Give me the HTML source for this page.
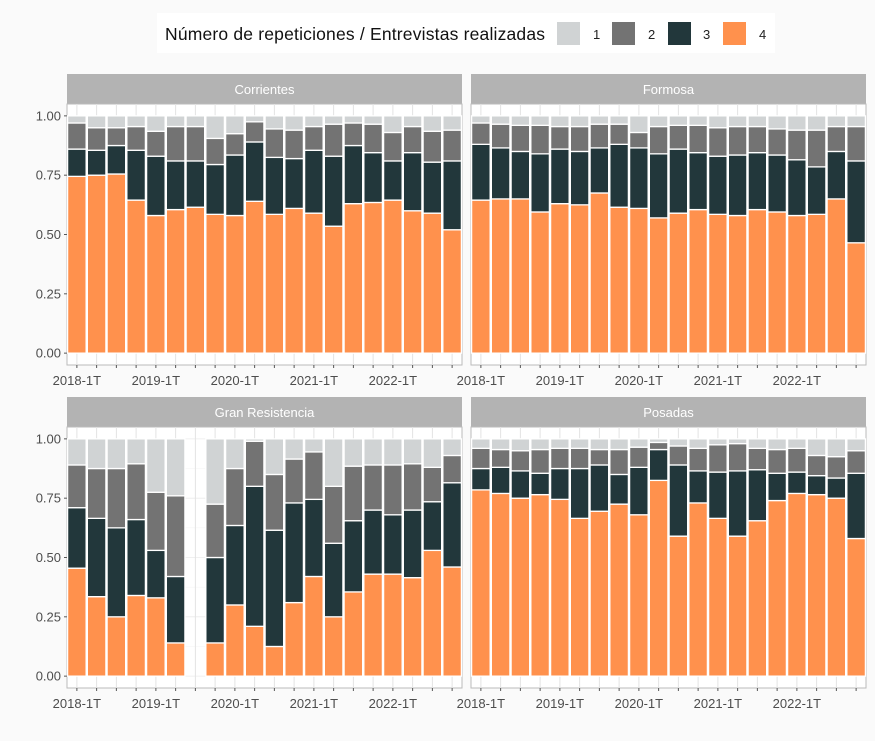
<!DOCTYPE html>
<html><head><meta charset="utf-8"><style>
body{margin:0;background:#fafafa;font-family:"Liberation Sans",sans-serif;}
svg{display:block}
</style></head><body>
<svg id="chart" width="875" height="741" xmlns="http://www.w3.org/2000/svg">
<rect width="875" height="741" fill="#fafafa"/>
<g>
<rect x="157" y="13" width="618" height="40" fill="#ffffff"/>
<text x="165" y="40" font-size="17.5" textLength="380" fill="#111">Número de repeticiones / Entrevistas realizadas</text>
<rect x="557" y="22" width="23" height="23" fill="#d0d3d4"/>
<text x="593" y="39" font-size="13" fill="#222">1</text>
<rect x="612" y="22" width="23" height="23" fill="#737373"/>
<text x="648" y="39" font-size="13" fill="#222">2</text>
<rect x="668" y="22" width="23" height="23" fill="#22373b"/>
<text x="703" y="39" font-size="13" fill="#222">3</text>
<rect x="723" y="22" width="23" height="23" fill="#ff914d"/>
<text x="759" y="39" font-size="13" fill="#222">4</text>
</g>
<g id="panels"></g>
</svg>
<script>
const categories=["2018-1T","2018-2T","2018-3T","2018-4T","2019-1T","2019-2T","2019-3T","2019-4T","2020-1T","2020-2T","2020-3T","2020-4T","2021-1T","2021-2T","2021-3T","2021-4T","2022-1T","2022-2T","2022-3T","2022-4T"];
const xTickLabels=["2018-1T","2019-1T","2020-1T","2021-1T","2022-1T"];
const yTicks=[0,0.25,0.5,0.75,1];
const yTickLabels=["0.00","0.25","0.50","0.75","1.00"];
const panelNames=["Corrientes","Formosa","Gran Resistencia","Posadas"];
// cumulative shares: c4 = share of 4, c3 = 4+3, c2 = 4+3+2 (rest = 1)
const corrientes_c4=[0.745,0.75,0.755,0.645,0.58,0.605,0.615,0.585,0.58,0.64,0.585,0.61,0.59,0.535,0.63,0.635,0.645,0.6,0.59,0.52];
const corrientes_c3=[0.86,0.855,0.875,0.855,0.83,0.81,0.81,0.795,0.835,0.89,0.825,0.82,0.855,0.83,0.875,0.845,0.81,0.845,0.805,0.81];
const corrientes_c2=[0.97,0.95,0.95,0.955,0.935,0.955,0.955,0.905,0.925,0.975,0.945,0.94,0.955,0.965,0.97,0.965,0.93,0.955,0.935,0.94];
const formosa_c4=[0.645,0.65,0.65,0.595,0.63,0.625,0.675,0.615,0.61,0.57,0.59,0.605,0.585,0.58,0.605,0.595,0.58,0.585,0.65,0.465];
const formosa_c3=[0.88,0.865,0.85,0.84,0.86,0.85,0.865,0.88,0.865,0.84,0.86,0.845,0.83,0.835,0.845,0.835,0.815,0.785,0.85,0.81];
const formosa_c2=[0.97,0.965,0.96,0.96,0.955,0.955,0.965,0.965,0.93,0.955,0.96,0.96,0.95,0.955,0.955,0.945,0.94,0.94,0.955,0.955];
const resistencia_c4=[0.455,0.335,0.25,0.34,0.33,0.14,null,0.14,0.30,0.21,0.125,0.31,0.42,0.25,0.355,0.43,0.43,0.415,0.53,0.46];
const resistencia_c3=[0.71,0.665,0.625,0.66,0.53,0.42,null,0.50,0.635,0.80,0.615,0.73,0.745,0.56,0.655,0.70,0.68,0.70,0.735,0.815];
const resistencia_c2=[0.89,0.875,0.875,0.895,0.775,0.76,null,0.725,0.875,0.99,0.85,0.915,0.945,0.80,0.885,0.89,0.89,0.895,0.88,0.93];
const posadas_c4=[0.785,0.77,0.75,0.765,0.745,0.665,0.695,0.725,0.68,0.825,0.59,0.73,0.665,0.59,0.655,0.74,0.77,0.765,0.75,0.58];
const posadas_c3=[0.875,0.88,0.865,0.855,0.875,0.875,0.89,0.85,0.88,0.955,0.89,0.865,0.86,0.865,0.87,0.855,0.86,0.845,0.835,0.855];
const posadas_c2=[0.96,0.955,0.95,0.955,0.96,0.96,0.955,0.955,0.965,0.985,0.97,0.96,0.975,0.98,0.96,0.955,0.96,0.93,0.925,0.95];

const NS="http://www.w3.org/2000/svg";
const colors={c1:"#d0d3d4",c2:"#737373",c3:"#22373b",c4:"#ff914d"};
const series=[[corrientes_c4,corrientes_c3,corrientes_c2],[formosa_c4,formosa_c3,formosa_c2],[resistencia_c4,resistencia_c3,resistencia_c2],[posadas_c4,posadas_c3,posadas_c2]];
const layout=[{x:67,y:104},{x:471,y:104},{x:67,y:427},{x:471,y:427}];
const PW=395,PH=261,STRIP=30;
const root=document.getElementById("panels");
function mk(tag,attrs,parent){const e=document.createElementNS(NS,tag);for(const k in attrs)e.setAttribute(k,attrs[k]);parent.appendChild(e);return e;}

panelNames.forEach((name,p)=>{
  const L=layout[p];
  const g=mk("g",{},root);
  
  
  const unit=PW/categories.length;
  const xc=i=>L.x+(0.5+i)*unit;
  const ys=v=>L.y+PH-((v+0.05)/1.1)*PH;
  const st=mk("rect",{x:L.x,y:L.y-STRIP,width:PW,height:STRIP,fill:"#b3b3b3"},g);
  
  
  const stt=mk("text",{x:L.x+PW/2,y:L.y-STRIP/2+5,"text-anchor":"middle","font-size":"13",fill:"#ffffff"},g);
  stt.textContent=name;
  
  
  mk("rect",{x:L.x,y:L.y,width:PW,height:PH,fill:"#ffffff",stroke:"#bbbbbb","stroke-width":"1"},g);
  yTicks.forEach((t,k)=>{
    mk("line",{x1:L.x,x2:L.x+PW,y1:ys(t),y2:ys(t),stroke:"#ebebeb","stroke-width":"0.8"},g);
    if(k<yTicks.length-1) mk("line",{x1:L.x,x2:L.x+PW,y1:ys(t+0.125),y2:ys(t+0.125),stroke:"#f3f3f3","stroke-width":"0.5"},g);
    if(p%2===0){
      const tl=mk("text",{x:L.x-6,y:ys(t)+4.5,"text-anchor":"end","font-size":"13",fill:"#4d4d4d"},g);
      tl.textContent=yTickLabels[k];
      
      
      mk("line",{x1:L.x-3,x2:L.x,y1:ys(t),y2:ys(t),stroke:"#555","stroke-width":"1"},g);
    }
  });
  const [c4,c3,c2]=series[p];
  categories.forEach((c,i)=>{
    mk("line",{x1:xc(i),x2:xc(i),y1:L.y,y2:L.y+PH,stroke:"#e3e3e3","stroke-width":"1"},g);
    mk("line",{x1:xc(i),x2:xc(i),y1:L.y+PH,y2:L.y+PH+3,stroke:"#555","stroke-width":"1"},g);
  });
  categories.forEach((c,i)=>{
    if(c4[i]==null) return;
    const segs=[[0,c4[i],"c4"],[c4[i],c3[i],"c3"],[c3[i],c2[i],"c2"],[c2[i],1,"c1"]];
    segs.forEach(s=>{
      const r=mk("rect",{x:xc(i)-unit/2+0.6,y:ys(s[1]),width:unit-1.2,height:Math.max(0,ys(s[0])-ys(s[1])),fill:colors[s[2]],stroke:"#ffffff","stroke-width":"1.3"},g);
      
      
    });
  });
  xTickLabels.forEach(lab=>{
    const i=categories.indexOf(lab);
    const t=mk("text",{x:xc(i),y:L.y+PH+20,"text-anchor":"middle","font-size":"13",fill:"#4d4d4d"},g);
    t.textContent=lab;
    
    
  });
});
</script>
</body></html>
